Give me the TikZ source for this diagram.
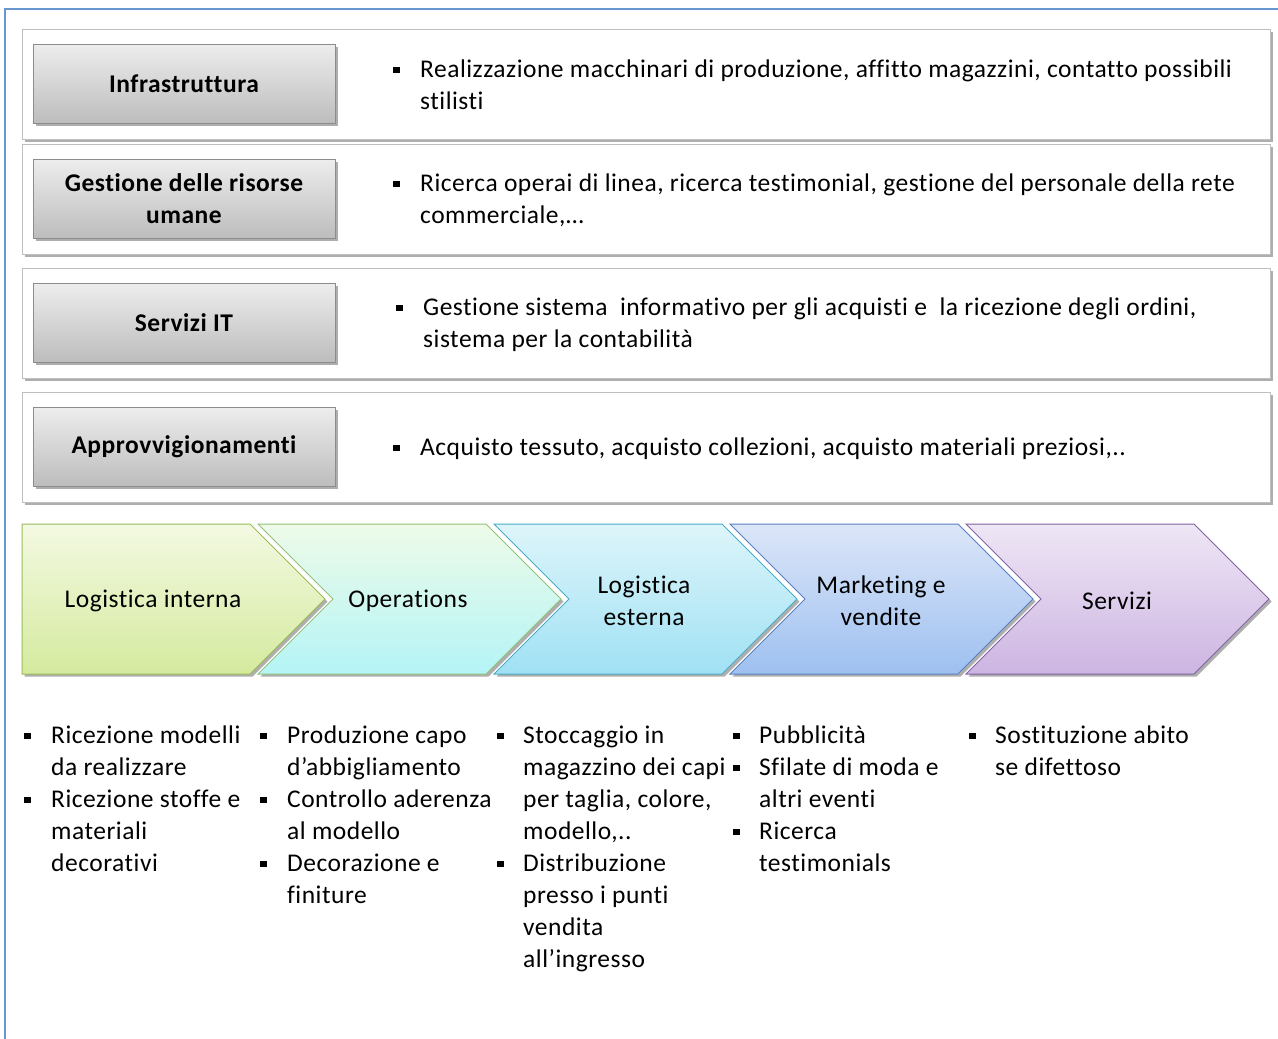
\documentclass[tikz,border=0pt]{standalone}
\usepackage{fontspec}
\setmainfont{Carlito}[Ligatures=NoCommon,LetterSpace=2.0]
\usetikzlibrary{shadows}
\definecolor{frameblue}{HTML}{6A96CF}
\definecolor{cAtop}{HTML}{F3F9E2}\definecolor{cAbot}{HTML}{D5EA9E}\definecolor{cAdr}{HTML}{9BBB59}
\definecolor{cBtop}{HTML}{EEFBE8}\definecolor{cBbot}{HTML}{B4F4F6}\definecolor{cBdr}{HTML}{93C27A}
\definecolor{cCtop}{HTML}{DDF5FA}\definecolor{cCbot}{HTML}{A0E1F4}\definecolor{cCdr}{HTML}{4BACC6}
\definecolor{cDtop}{HTML}{DCE6F8}\definecolor{cDbot}{HTML}{9EC0F0}\definecolor{cDdr}{HTML}{5A7FC0}
\definecolor{cEtop}{HTML}{EEE6F5}\definecolor{cEbot}{HTML}{CDB5E2}\definecolor{cEdr}{HTML}{8064A2}
\newcommand\Li[4]{\node[txt] (#1) at (#2,#3) {#4};}
\newcommand\Bu[3]{\node[bul] (#1) at (#2+3.5,#3-7) {};}
\begin{document}
\begin{tikzpicture}[x=1pt,y=-1pt,
  shad/.style={drop shadow={shadow xshift=2.5pt,shadow yshift=-2.5pt,opacity=0.45,fill=black!70}},
  panel/.style={draw=black!25,line width=0.8pt,fill=white,shad},
  graybox/.style={draw=black!45,line width=1pt,top color=black!7,bottom color=black!26,shad},
  chev/.style={line width=1pt,shad},
  txt/.style={anchor=base west,inner sep=0pt,font=\fontsize{25.5}{32}\selectfont},
  boldtxt/.style={inner sep=0pt,align=center,font=\fontsize{25.5}{32}\selectfont\bfseries},
  chtxt/.style={inner sep=0pt,align=center,font=\fontsize{25.5}{32}\selectfont},
  bul/.style={fill=black,minimum size=6.5pt,inner sep=0pt}]
\useasboundingbox (0,0) rectangle (1278,1039);
\clip (0,0) rectangle (1278,1039);
\fill[white] (0,0) rectangle (1278,1039);
\draw[frameblue,line width=2pt] (5,1050) -- (5,9) -- (1290,9);

% panels
\path[panel] (22,29) rectangle (1270,139);
\path[panel] (22,144) rectangle (1270,254);
\path[panel] (22,268) rectangle (1270,378);
\path[panel] (22,392) rectangle (1270,502);

% gray boxes
\path[graybox] (33,44) rectangle (335,123);
\path[graybox] (33,159) rectangle (335,238);
\path[graybox] (33,283) rectangle (335,362);
\path[graybox] (33,407) rectangle (335,486);
\node[boldtxt] (g1) at (184,84) {Infrastruttura};
\node[boldtxt] (g2) at (184,199) {Gestione delle risorse\\umane};
\node[boldtxt] (g3) at (184,323) {Servizi IT};
\node[boldtxt] (g4) at (184,447) {Approvvigionamenti};

% top texts
\Bu{b1}{393}{77}
\Li{t11}{420}{77}{Realizzazione macchinari di produzione, affitto magazzini, contatto possibili}
\Li{t12}{420}{109}{stilisti}
\Bu{b2}{393}{191}
\Li{t21}{420}{191}{Ricerca operai di linea, ricerca testimonial, gestione del personale della rete}
\Li{t22}{420}{223}{commerciale,…}
\Bu{b3}{396}{315}
\Li{t31}{423}{315}{Gestione sistema\ \ informativo per gli acquisti e\ \ la ricezione degli ordini,}
\Li{t32}{423}{347}{sistema per la contabilità}
\Bu{b4}{393}{455}
\Li{t41}{420}{455}{Acquisto tessuto, acquisto collezioni, acquisto materiali preziosi,..}

% chevrons
\path[chev,draw=cAdr,top color=cAtop,bottom color=cAbot]
  (22,524) -- (250,524) -- (325,599) -- (250,674) -- (22,674) -- cycle;
\path[chev,draw=cBdr,top color=cBtop,bottom color=cBbot]
  (258,524) -- (486,524) -- (561,599) -- (486,674) -- (258,674) -- (333,599) -- cycle;
\path[chev,draw=cCdr,top color=cCtop,bottom color=cCbot]
  (494,524) -- (722,524) -- (797,599) -- (722,674) -- (494,674) -- (569,599) -- cycle;
\path[chev,draw=cDdr,top color=cDtop,bottom color=cDbot]
  (730,524) -- (958,524) -- (1033,599) -- (958,674) -- (730,674) -- (805,599) -- cycle;
\path[chev,draw=cEdr,top color=cEtop,bottom color=cEbot]
  (966,524) -- (1194,524) -- (1269,599) -- (1194,674) -- (966,674) -- (1041,599) -- cycle;
\node[chtxt] (c1) at (153,601) {Logistica interna};
\node[chtxt] (c2) at (408,601) {Operations};
\node[chtxt] (c3) at (644,601) {Logistica\\esterna};
\node[chtxt] (c4) at (881,601) {Marketing e\\vendite};
\node[chtxt] (c5) at (1117,601) {Servizi};

% bottom lists
\Bu{p1a}{24}{743}\Li{l1a}{51}{743}{Ricezione modelli}
\Li{l1b}{51}{775}{da realizzare}
\Bu{p1c}{24}{807}\Li{l1c}{51}{807}{Ricezione stoffe e}
\Li{l1d}{51}{839}{materiali}
\Li{l1e}{51}{871}{decorativi}

\Bu{p2a}{260}{743}\Li{l2a}{287}{743}{Produzione capo}
\Li{l2b}{287}{775}{d’abbigliamento}
\Bu{p2c}{260}{807}\Li{l2c}{287}{807}{Controllo aderenza}
\Li{l2d}{287}{839}{al modello}
\Bu{p2e}{260}{871}\Li{l2e}{287}{871}{Decorazione e}
\Li{l2f}{287}{903}{finiture}

\Bu{p3a}{497}{743}\Li{l3a}{523}{743}{Stoccaggio in}
\Li{l3b}{523}{775}{magazzino dei capi}
\Li{l3c}{523}{807}{per taglia, colore,}
\Li{l3d}{523}{839}{modello,..}
\Bu{p3e}{497}{871}\Li{l3e}{523}{871}{Distribuzione}
\Li{l3f}{523}{903}{presso i punti}
\Li{l3g}{523}{935}{vendita}
\Li{l3h}{523}{967}{all’ingresso}

\Bu{p4a}{733}{743}\Li{l4a}{759}{743}{Pubblicità}
\Bu{p4b}{733}{775}\Li{l4b}{759}{775}{Sfilate di moda e}
\Li{l4c}{759}{807}{altri eventi}
\Bu{p4d}{733}{839}\Li{l4d}{759}{839}{Ricerca}
\Li{l4e}{759}{871}{testimonials}

\Bu{p5a}{969}{743}\Li{l5a}{995}{743}{Sostituzione abito}
\Li{l5b}{995}{775}{se difettoso}
\end{tikzpicture}
\end{document}
